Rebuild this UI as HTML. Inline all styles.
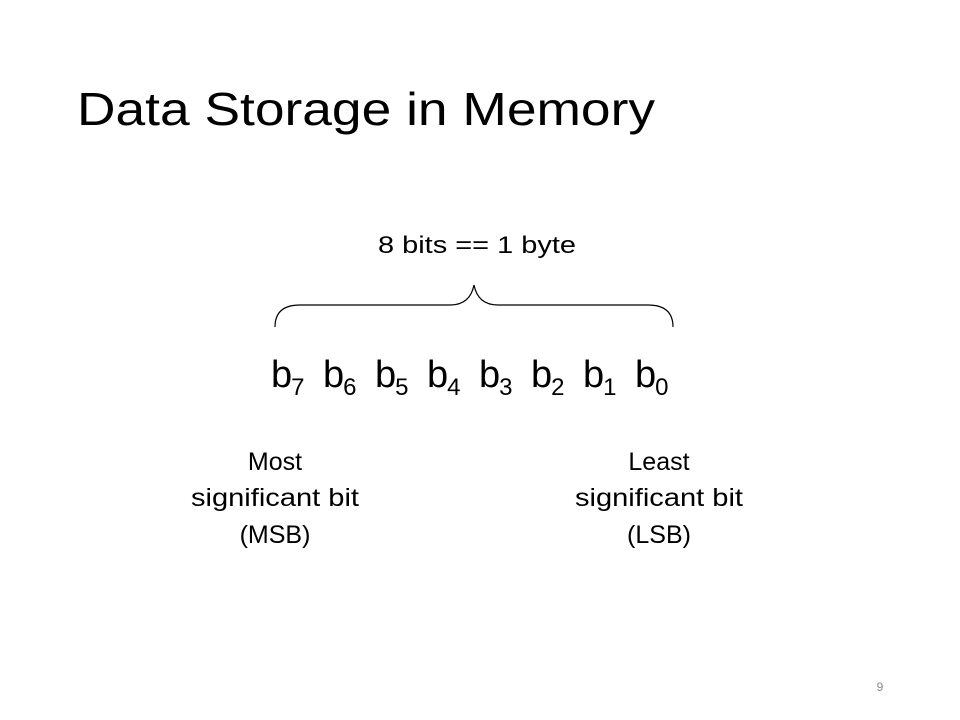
<!DOCTYPE html>
<html><head><meta charset="utf-8"><style>
html,body{margin:0;padding:0;background:#fff;}
svg{display:block;}
text{font-family:"Liberation Sans",sans-serif;fill:#000;}
</style></head><body>
<svg width="960" height="720" viewBox="0 0 960 720" xmlns="http://www.w3.org/2000/svg">
<text x="77" y="125" font-size="46" textLength="578" lengthAdjust="spacingAndGlyphs">Data Storage in Memory</text>
<text x="378" y="253" font-size="24" textLength="198" lengthAdjust="spacingAndGlyphs">8 bits == 1 byte</text>
<path d="M275,327 Q275,305 300,305 L450,305 Q470,305 474,285 Q478,305 498,305 L648,305 Q673,305 673,327" fill="none" stroke="#000" stroke-width="1.2"/>
<g font-size="38">
<text x="271" y="387">b<tspan font-size="24" dx="-1" dy="8">7</tspan></text>
<text x="323" y="387">b<tspan font-size="24" dx="-1" dy="8">6</tspan></text>
<text x="375" y="387">b<tspan font-size="24" dx="-1" dy="8">5</tspan></text>
<text x="427" y="387">b<tspan font-size="24" dx="-1" dy="8">4</tspan></text>
<text x="479" y="387">b<tspan font-size="24" dx="-1" dy="8">3</tspan></text>
<text x="531" y="387">b<tspan font-size="24" dx="-1" dy="8">2</tspan></text>
<text x="583" y="387">b<tspan font-size="24" dx="-1" dy="8">1</tspan></text>
<text x="635" y="387">b<tspan font-size="24" dx="-1" dy="8">0</tspan></text>
</g>
<g font-size="25" text-anchor="middle">
<text x="275" y="470">Most</text>
<text x="275" y="506" textLength="168" lengthAdjust="spacingAndGlyphs">significant bit</text>
<text x="275" y="543">(MSB)</text>
<text x="659" y="470">Least</text>
<text x="659" y="506" textLength="168" lengthAdjust="spacingAndGlyphs">significant bit</text>
<text x="659" y="543">(LSB)</text>
</g>
<text x="880" y="691" font-size="12" style="fill:#888" text-anchor="middle">9</text>
</svg>
</body></html>
